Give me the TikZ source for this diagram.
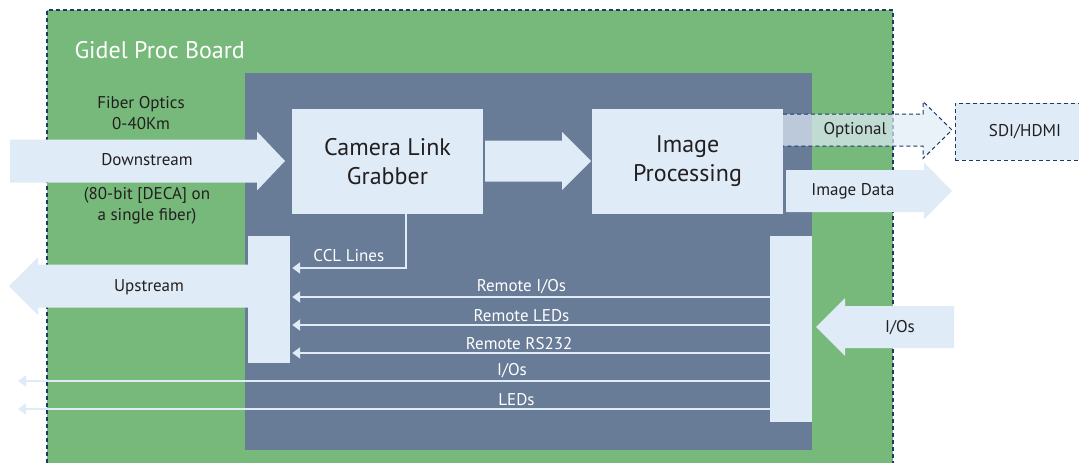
\documentclass[tikz,border=0pt]{standalone}
\usepackage{fontspec}
\setmainfont{PT Sans}
\usepackage{xcolor}
\usepackage{tikz}
\usetikzlibrary{positioning,arrows.meta}

\definecolor{board}{HTML}{77B97B}
\definecolor{slate}{HTML}{687B97}
\definecolor{pale}{HTML}{DFEBF7}
\definecolor{navy}{HTML}{1B3A66}
\definecolor{ink}{HTML}{231F20}

% fat arrow: tail x, tip x, mid y, half shaft, half head, head length
\newcommand\fatarrow[6]{%
  (#1,#3-#4) -- (#2-#6,#3-#4) -- (#2-#6,#3-#5) -- (#2,#3)
  -- (#2-#6,#3+#5) -- (#2-#6,#3+#4) -- (#1,#3+#4) -- cycle}

\begin{document}
\begin{tikzpicture}[
    x=1pt,y=-1pt,
    unit/.style={fill=pale,text=ink,align=center,minimum width=191pt,minimum height=105pt,
      font=\fontsize{24}{29}\selectfont},
    port/.style={fill=pale,inner sep=0pt},
    sig/.style={draw=pale,line width=2.5pt,-{Triangle[length=8pt,width=11pt]}},
    ccl/.style={draw=pale,line width=2pt,-{Triangle[length=8pt,width=11pt]}},
    wlbl/.style={text=white,font=\fontsize{17}{20}\selectfont,inner sep=1pt},
    dlbl/.style={text=ink,font=\fontsize{17}{21}\selectfont,align=center,inner sep=1pt},
    flow/.style={fill=pale}
  ]
    \useasboundingbox (0,0) rectangle (1079,463);
    \clip (0,0) rectangle (1079,463);

    % board and inner area
    \fill[board] (47,10) rectangle (893,470);
    \draw[navy,line width=1.6pt,dash pattern=on 4pt off 3pt] (47,470) -- (47,10) -- (893,10) -- (893,470);
    \fill[slate] (245,73) rectangle (812,450);
    \node[text=white,font=\fontsize{24}{28}\selectfont,anchor=west] (title) at (71,50) {Gidel Proc Board};

    % main blocks
    \node[unit] (grab) at (387.5,161.5) {Camera Link\\Grabber};
    \node[unit] (proc) at (687.5,161.5) {Image\\Processing};
    \node[port,minimum width=42pt,minimum height=127pt] (lport) at (269,299.5) {};
    \node[port,minimum width=42pt,minimum height=186pt] (rport) at (791,329) {};

    % fat arrows
    \fill[flow] \fatarrow{10}{285}{161}{21.5}{29.5}{28};
    \fill[flow] \fatarrow{485}{591}{161}{20.5}{29}{29};
    \fill[flow] \fatarrow{786}{952}{191}{21}{28.5}{28};
    \fill[flow] \fatarrow{248}{9}{286}{21.5}{29}{-29};
    \fill[flow] \fatarrow{954}{816}{327}{21}{29}{-29};

    % optional output
    \fill[pale,opacity=0.7] \fatarrow{783}{952}{130}{16}{28.5}{29};
    \draw[navy,line width=1pt,dash pattern=on 4pt off 3pt]
      (783,114) -- (923,114) -- (923,101.5) -- (952,130) -- (923,158.5) -- (923,146) -- (783,146);
    \node[fill=pale,draw=navy,line width=1pt,dash pattern=on 4pt off 3pt,minimum width=140pt,
      minimum height=57pt,text=ink,font=\fontsize{17}{20}\selectfont] (sdi) at (1025,131.5) {SDI/HDMI};

    % labels of fat arrows
    \node[dlbl] (fiber) at (141,113) {Fiber Optics\\0-40Km};
    \node[dlbl] (down) at (147,160) {Downstream};
    \node[dlbl] (deca) at (147,206) {(80-bit [DECA] on\\a single fiber)};
    \node[dlbl] (up) at (149,287) {Upstream};
    \node[dlbl] (imgdata) at (853,191) {Image Data};
    \node[dlbl] (opt) at (855,130) {Optional};
    \node[dlbl] (ios) at (900,328) {I/Os};

    % signal lines
    \coordinate (edge) at (18,0);
    \draw[ccl] ([xshift=18pt]grab.south) |- ([xshift=2pt]lport.east |- 0,268)
      node[wlbl,pos=0.75,above=4pt] (ccltxt) {CCL Lines};
    \draw[sig] (rport.west |- 0,297) -- ([xshift=2pt]lport.east |- 0,297)
      node[wlbl,pos=0.52,above=1pt] (rio) {Remote I/Os};
    \draw[sig] (rport.west |- 0,325) -- ([xshift=2pt]lport.east |- 0,325)
      node[wlbl,pos=0.52,above=1pt] (rled) {Remote LEDs};
    \draw[sig] (rport.west |- 0,353) -- ([xshift=2pt]lport.east |- 0,353)
      node[wlbl,pos=0.525,above=1pt] (rrs) {Remote RS232};
    \draw[sig] (rport.west |- 0,381) -- (edge |- 0,381)
      node[wlbl,pos=0.343,above=1pt] (io) {I/Os};
    \draw[sig] (rport.west |- 0,409) -- (edge |- 0,409)
      node[wlbl,pos=0.337,above=1pt] (led) {LEDs};
\end{tikzpicture}
\end{document}
